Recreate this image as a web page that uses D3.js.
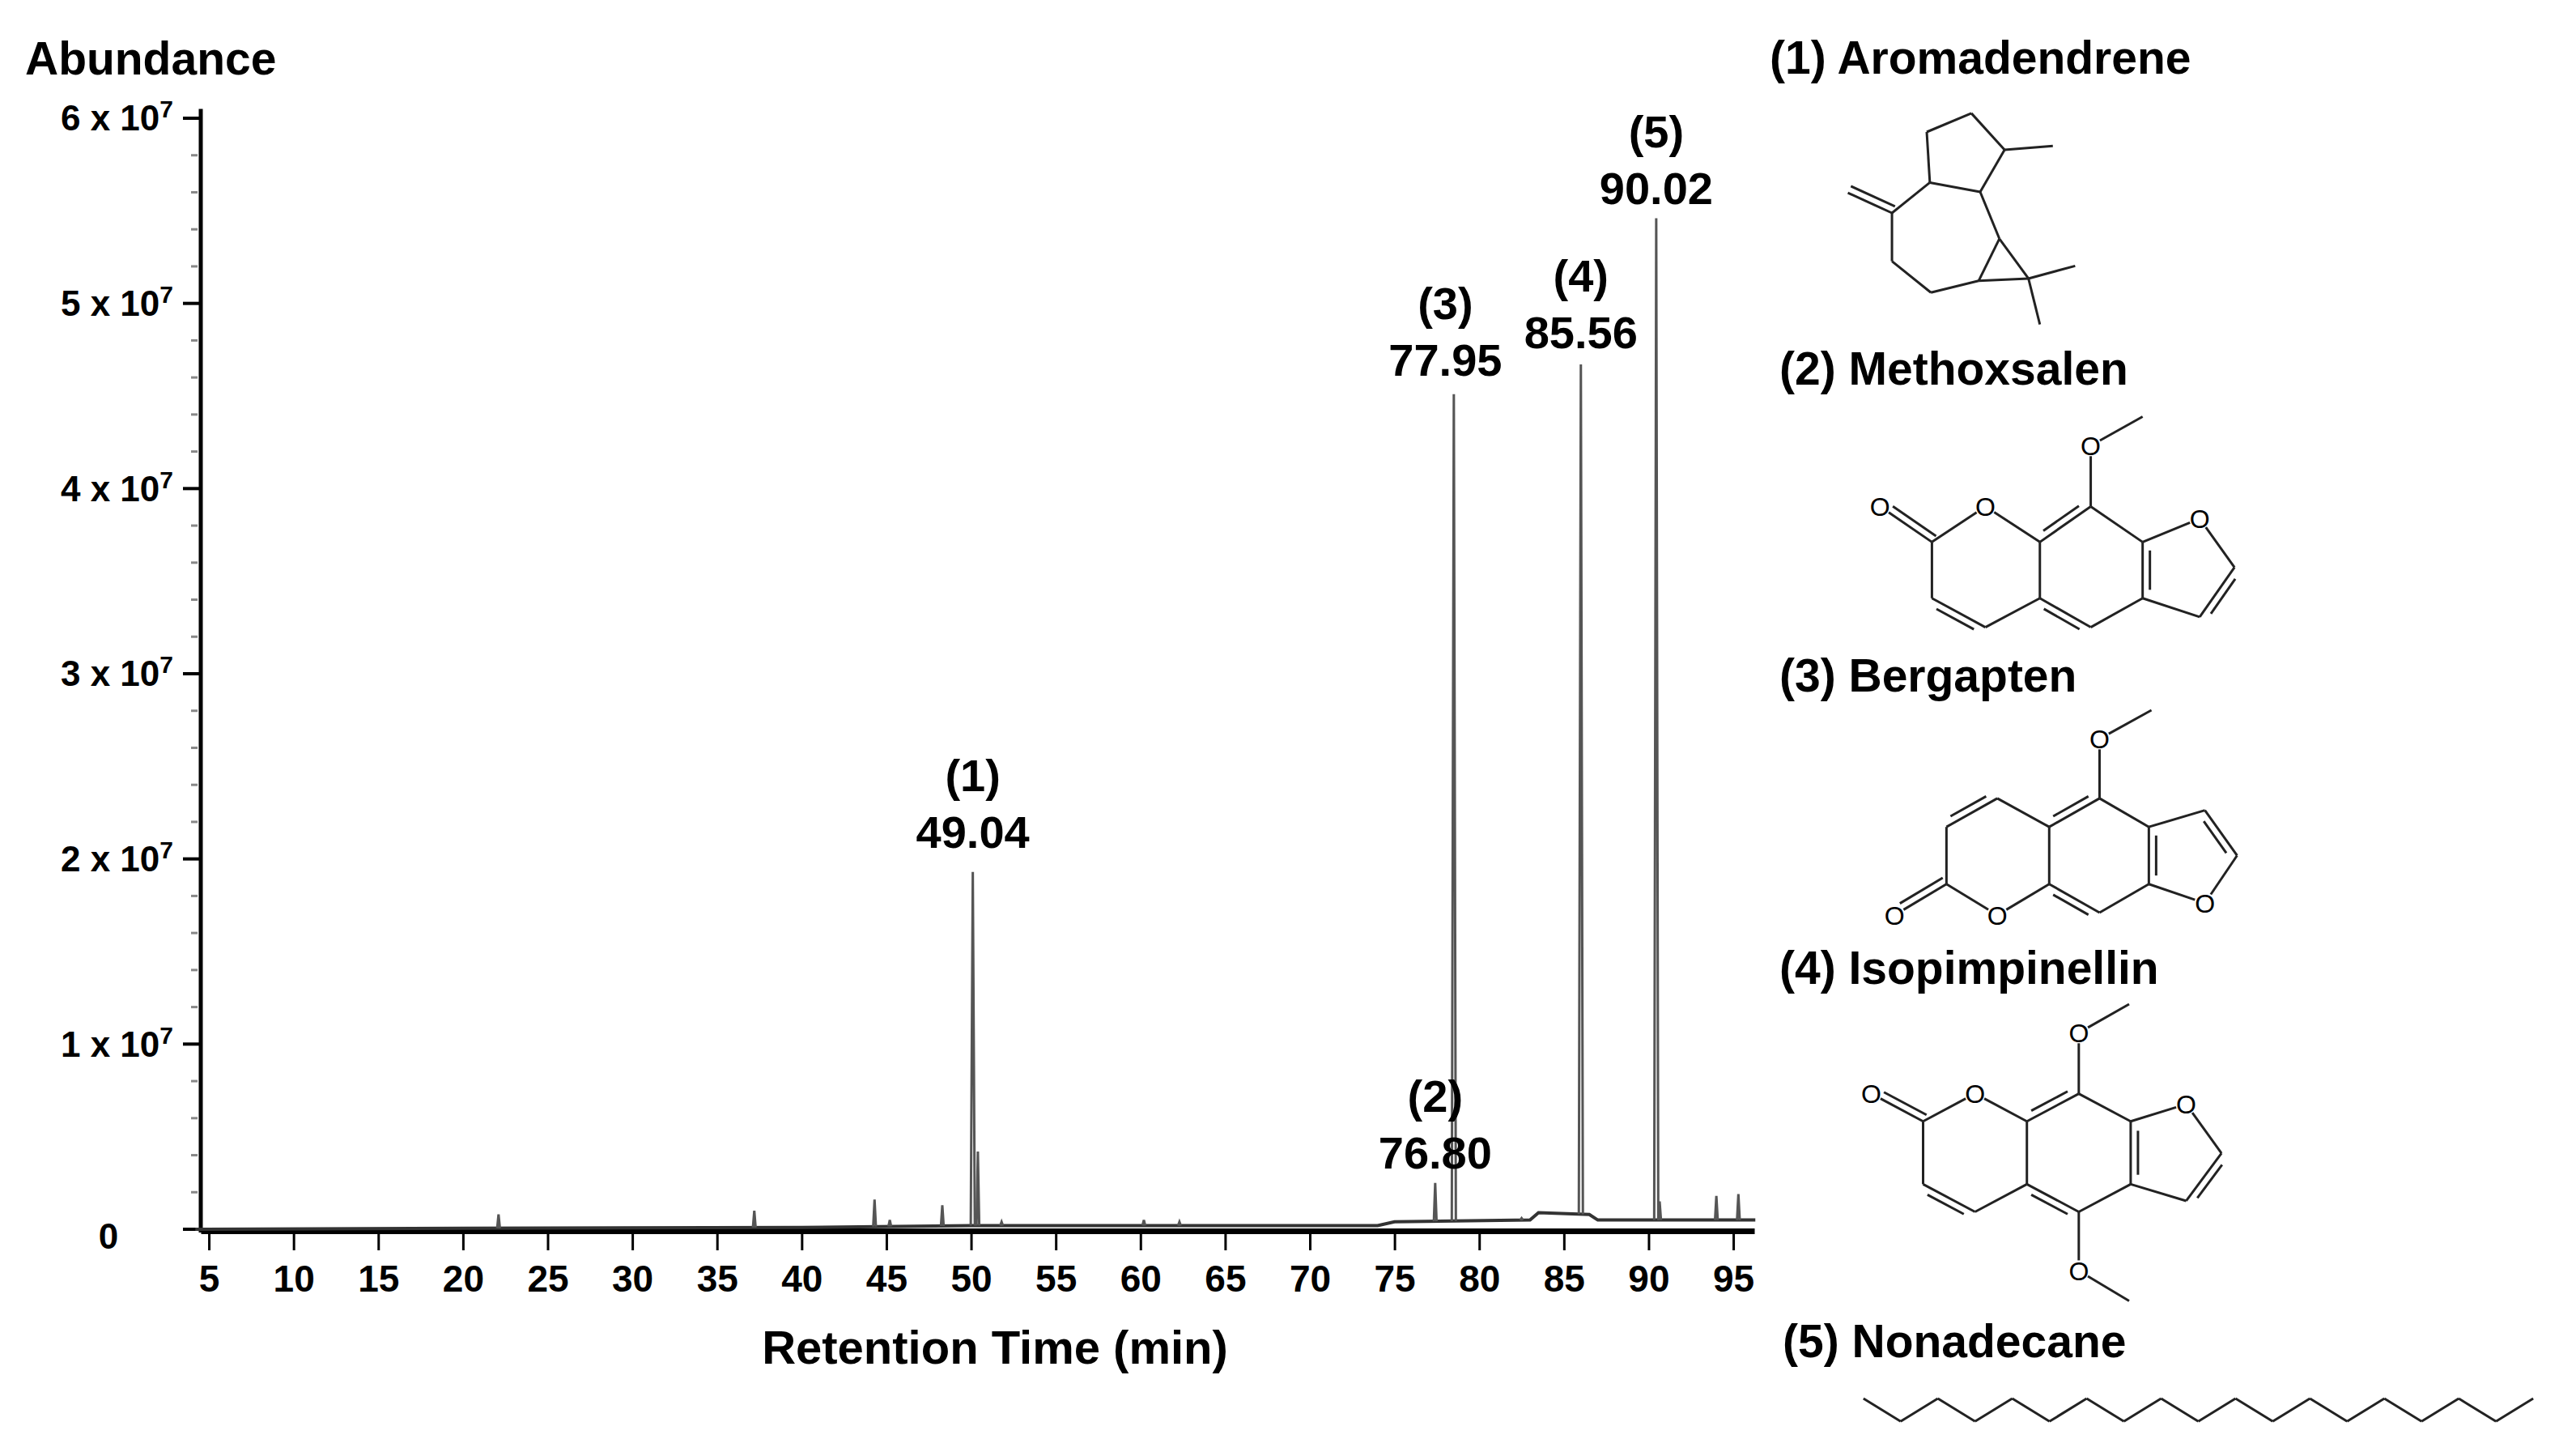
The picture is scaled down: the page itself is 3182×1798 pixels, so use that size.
<!DOCTYPE html>
<html><head><meta charset="utf-8">
<script src="https://cdn.jsdelivr.net/npm/d3@7"></script>
<style>body{margin:0;background:#fff}text{font-family:"Liberation Sans",Arial,sans-serif}</style>
</head><body><div id="chart"></div>
<script>
// chromatogram peaks: plotted time (min), height (abundance)
var peakTimes   = [22.1, 37.2, 44.3, 45.2, 48.3, 50.1, 50.4, 51.8, 60.2, 62.3, 77.4, 78.5, 82.5, 86.0, 90.45, 90.65, 94.0, 95.3]
var peakHeights = [0.08e7, 0.1e7, 0.16e7, 0.05e7, 0.13e7, 1.93e7, 0.42e7, 0.04e7, 0.05e7, 0.04e7, 0.25e7, 4.51e7, 0.06e7, 4.67e7, 5.46e7, 0.15e7, 0.18e7, 0.19e7]
// baseline drift
var baseTimes  = [4.2, 20, 40, 50, 60, 74, 75, 83, 83.5, 86.5, 87, 96.3]
var baseValues = [0, 0.005e7, 0.01e7, 0.02e7, 0.02e7, 0.02e7, 0.04e7, 0.05e7, 0.09e7, 0.08e7, 0.05e7, 0.05e7]
// peak annotations
var labelIds   = ['(1)', '(2)', '(3)', '(4)', '(5)']
var labelTimes = ['49.04', '76.80', '77.95', '85.56', '90.02']
var labelX     = [50.1, 77.4, 78.0, 86.0, 90.45]
var labelY     = [2.45e7, 0.72e7, 5.0e7, 5.15e7, 5.93e7]
var xTicks = d3.range(5, 100, 5)
var yTicks = [0, 1e7, 2e7, 3e7, 4e7, 5e7, 6e7]
var compounds = ['(1) Aromadendrene', '(2)  Methoxsalen', '(3)  Bergapten', '(4)  Isopimpinellin', '(5)  Nonadecane']
var compoundY = [71, 455, 834, 1195, 1656]
var compoundX = [2186, 2198, 2198, 2198, 2202]

var W = 3182, H = 1798
var svg = d3.select('#chart').append('svg').attr('width', W).attr('height', H)

var x = d3.scaleLinear().domain([4.52, 96.24]).range([248, 2167])
var y = d3.scaleLinear().domain([0, 6e7]).range([1518, 146])

// y axis
var gy = svg.append('g')
gy.append('line').attr('x1', 248).attr('x2', 248).attr('y1', y(6.05e7)).attr('y2', y(0) + 4)
  .attr('stroke', '#000').attr('stroke-width', 5)
d3.range(0, 6e7, 0.2e7).forEach(function (v) {
  if (v % 1e7 === 0) return
  gy.append('line').attr('x1', 236).attr('x2', 244).attr('y1', y(v)).attr('y2', y(v))
    .attr('stroke', '#888').attr('stroke-width', 3)
})
yTicks.forEach(function (v) {
  gy.append('line').attr('x1', 226).attr('x2', 248).attr('y1', y(v)).attr('y2', y(v))
    .attr('stroke', '#000').attr('stroke-width', 4)
  var t = gy.append('text').attr('y', y(v)).attr('dy', '0.35em')
    .attr('font-size', 44).attr('font-weight', 'bold')
  if (v === 0) {
    t.attr('x', 134).attr('text-anchor', 'middle').attr('dy', '0.55em').text('0')
  } else {
    t.attr('x', 214).attr('text-anchor', 'end')
    t.append('tspan').text((v / 1e7) + ' x 10')
    t.append('tspan').attr('dy', -16).attr('font-size', 30).text('7')
  }
})
svg.append('text').attr('x', 31).attr('y', 72).attr('dy', '0.35em')
  .attr('font-size', 57).attr('font-weight', 'bold').text('Abundance')

// x axis
var gx = svg.append('g').attr('transform', 'translate(0,' + (y(0) + 2) + ')')
gx.call(d3.axisBottom(x).tickValues(xTicks).tickSize(24).tickPadding(18).tickSizeOuter(0))
gx.select('.domain').attr('stroke-width', 7)
gx.selectAll('.tick line').attr('stroke-width', 3)
gx.selectAll('.tick text').attr('font-size', 46).attr('font-weight', 'bold')
  .attr('font-family', '"Liberation Sans",Arial,sans-serif')
svg.append('text').attr('x', 1229).attr('y', 1664).attr('dy', '0.35em').attr('text-anchor', 'middle')
  .attr('font-size', 58).attr('font-weight', 'bold').text('Retention Time (min)')

// trace
var baseAt = function (t) {
  for (var i = 1; i < baseTimes.length; i++) {
    if (t <= baseTimes[i]) {
      var f = (t - baseTimes[i - 1]) / (baseTimes[i] - baseTimes[i - 1])
      return baseValues[i - 1] + f * (baseValues[i] - baseValues[i - 1])
    }
  }
  return baseValues[baseValues.length - 1]
}
var line = d3.line().x(function (d) { return x(d[0]) }).y(function (d) { return y(d[1]) })
svg.append('path').attr('d', line(baseTimes.map(function (t, i) { return [t, baseValues[i]] })))
  .attr('fill', 'none').attr('stroke', '#333').attr('stroke-width', 4)
peakTimes.forEach(function (t, i) {
  var w = peakHeights[i] > 1e7 ? 0.12 : 0.08
  svg.append('path')
    .attr('d', line([[t - w, baseAt(t - w)], [t, peakHeights[i]], [t + w, baseAt(t + w)]]))
    .attr('fill', 'none').attr('stroke', '#555').attr('stroke-width', 3)
})

// peak labels
labelIds.forEach(function (id, i) {
  var g = svg.append('g').attr('font-size', 56).attr('font-weight', 'bold').attr('text-anchor', 'middle')
  g.append('text').attr('x', x(labelX[i])).attr('y', y(labelY[i])).attr('dy', '0.35em').text(id)
  g.append('text').attr('x', x(labelX[i])).attr('y', y(labelY[i]) + 70).attr('dy', '0.35em').text(labelTimes[i])
})

// compound names
compounds.forEach(function (c, i) {
  svg.append('text').attr('x', compoundX[i]).attr('y', compoundY[i]).attr('dy', '0.35em')
    .attr('font-size', 57).attr('font-weight', 'bold').text(c)
})

// structures (atom positions in local drawing units)
var drawMol = function (ox, oy, fx, fy, atoms, bonds, oxy) {
  var g = svg.append('g')
  var P = function (k) { return [ox + atoms[k][0] / fx, oy + atoms[k][1] / fy] }
  bonds.forEach(function (b) {
    var a = P(b[0]), c = P(b[1])
    var dx = c[0] - a[0], dy = c[1] - a[1], L = Math.sqrt(dx * dx + dy * dy)
    var sa = oxy.indexOf(b[0]) >= 0 ? 13 : 0, sc = oxy.indexOf(b[1]) >= 0 ? 13 : 0
    var a2 = [a[0] + dx / L * sa, a[1] + dy / L * sa], c2 = [c[0] - dx / L * sc, c[1] - dy / L * sc]
    g.append('line').attr('x1', a2[0]).attr('y1', a2[1]).attr('x2', c2[0]).attr('y2', c2[1])
      .attr('stroke', '#222').attr('stroke-width', 3)
    if (b[2]) {
      var nx = -dy / L * 9 * b[2], ny = dx / L * 9 * b[2], sh = b[3] ? 0 : 0.15
      g.append('line')
        .attr('x1', a2[0] + nx + dx * sh).attr('y1', a2[1] + ny + dy * sh)
        .attr('x2', c2[0] + nx - dx * sh).attr('y2', c2[1] + ny - dy * sh)
        .attr('stroke', '#222').attr('stroke-width', 3)
    }
  })
  oxy.forEach(function (k) {
    var p = P(k)
    g.append('text').attr('x', p[0]).attr('y', p[1]).attr('dy', '0.36em').attr('text-anchor', 'middle')
      .attr('font-size', 32).text('O')
  })
}

// aromadendrene
drawMol(2180, 0, 1.56, 1.73,
  {A: [312, 282], B: [398, 242], C: [462, 320], D: [415, 410], E: [318, 390], M1: [555, 312],
   F: [245, 455], X: [160, 412], G: [245, 558], Hh: [320, 625], I: [412, 600], J: [452, 510],
   K: [508, 595], M2: [598, 568], M3: [530, 693]},
  [['A', 'B'], ['B', 'C'], ['C', 'D'], ['D', 'E'], ['E', 'A'], ['C', 'M1'], ['E', 'F'], ['F', 'X', 1, 1],
   ['F', 'G'], ['G', 'Hh'], ['Hh', 'I'], ['I', 'J'], ['J', 'D'], ['I', 'K'], ['J', 'K'], ['K', 'M2'], ['K', 'M3']], [])

// methoxsalen
drawMol(2180, 0, 1.56, 1.73,
  {Oc: [222, 1082], C2: [322, 1158], O1: [425, 1082], C8a: [530, 1158], C8: [628, 1082], Om: [628, 952],
   Me: [728, 890], C7a: [728, 1158], Of: [838, 1108], Cf1: [905, 1212], Cf2: [838, 1318], C5a: [728, 1278],
   C5: [628, 1340], C4a: [530, 1278], C4: [425, 1340], C3: [322, 1278]},
  [['C2', 'Oc', 1, 1], ['C2', 'O1'], ['O1', 'C8a'], ['C8a', 'C8', -1], ['C8', 'C7a'], ['C7a', 'C5a', -1],
   ['C5a', 'C5'], ['C5', 'C4a', -1], ['C4a', 'C8a'], ['C4a', 'C4'], ['C4', 'C3', -1], ['C3', 'C2'],
   ['C7a', 'Of'], ['Of', 'Cf1'], ['Cf1', 'Cf2', -1], ['Cf2', 'C5a'], ['C8', 'Om'], ['Om', 'Me']], ['Oc', 'O1', 'Of', 'Om'])

// bergapten
drawMol(2180, 880, 1.56, 1.70,
  {Om: [645, 55], Me: [745, -5], C5: [645, 180], C4a: [548, 240], C4: [448, 180], C3: [350, 240], C2: [350, 360],
   Oc: [250, 425], O1: [448, 425], C8a: [548, 360], C8: [645, 420], C7a: [740, 360], C3a: [740, 240],
   Cf1: [848, 205], Cf2: [910, 300], Of: [848, 400]},
  [['Om', 'Me'], ['C5', 'Om'], ['C5', 'C4a', 1], ['C4a', 'C4'], ['C4', 'C3', 1], ['C3', 'C2'], ['C2', 'Oc', 1, 1],
   ['C2', 'O1'], ['O1', 'C8a'], ['C8a', 'C8', 1], ['C8', 'C7a'], ['C7a', 'C3a', 1], ['C3a', 'C5'], ['C4a', 'C8a'],
   ['C3a', 'Cf1'], ['Cf1', 'Cf2', 1], ['Cf2', 'Of'], ['Of', 'C7a']], ['Om', 'Oc', 'O1', 'Of'])

// isopimpinellin
drawMol(2180, 880, 1.56, 1.70,
  {Oc: [205, 800], C2: [305, 858], O1: [405, 800], C8a: [505, 858], C8: [605, 800], Om: [605, 672], Me: [702, 612],
   C7a: [705, 858], Of: [812, 822], Cf1: [880, 925], Cf2: [812, 1025], C3a: [705, 990], C5: [605, 1048],
   Om2: [605, 1172], Me2: [702, 1235], C4a: [505, 990], C4: [405, 1048], C3: [305, 990]},
  [['C2', 'Oc', 1, 1], ['C2', 'O1'], ['O1', 'C8a'], ['C8a', 'C8', -1], ['C8', 'C7a'], ['C7a', 'C3a', -1],
   ['C3a', 'C5'], ['C5', 'C4a', -1], ['C4a', 'C8a'], ['C4a', 'C4'], ['C4', 'C3', -1], ['C3', 'C2'],
   ['C7a', 'Of'], ['Of', 'Cf1'], ['Cf1', 'Cf2', -1], ['Cf2', 'C3a'], ['C8', 'Om'], ['Om', 'Me'],
   ['C5', 'Om2'], ['Om2', 'Me2']], ['Oc', 'O1', 'Of', 'Om', 'Om2'])

// nonadecane zigzag
var zig = {}, zb = []
d3.range(19).forEach(function (i) {
  zig['c' + i] = [190 + i * 71.7, i % 2 ? 1488 : 1440]
  if (i) zb.push(['c' + (i - 1), 'c' + i])
})
drawMol(2180, 880, 1.56, 1.70, zig, zb, [])
</script></body></html>
